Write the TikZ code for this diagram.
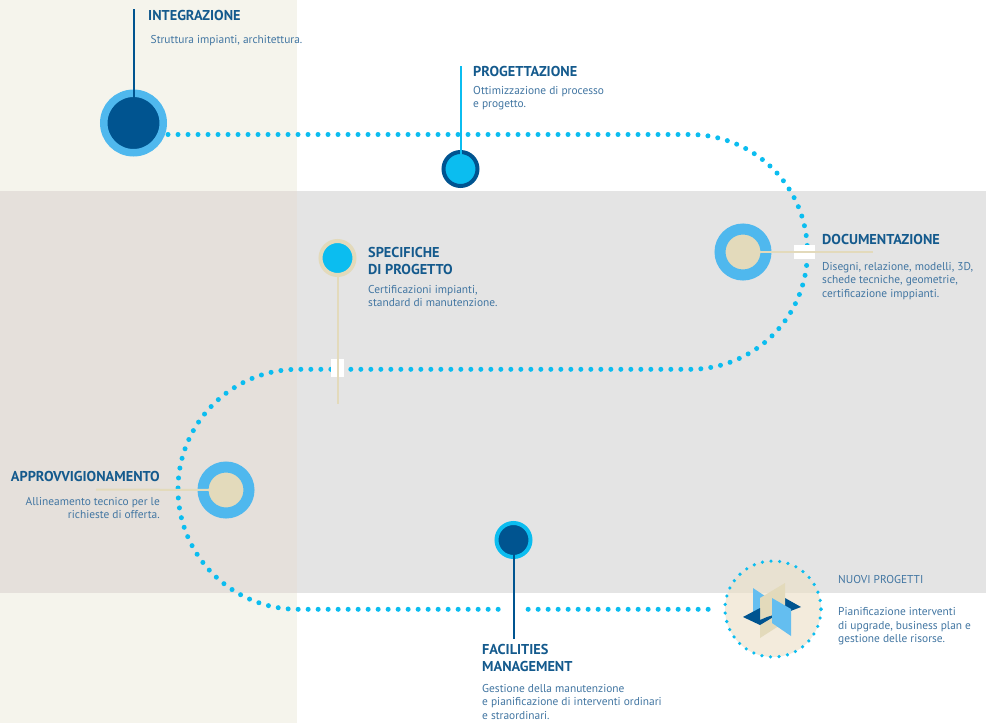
\documentclass[tikz,border=0pt]{standalone}
\usepackage{fontspec}
\usepackage{xcolor}
\usepackage{tikz}
\setmainfont{PT Sans}
\usetikzlibrary{positioning,calc}
\definecolor{darkbluecolor}{RGB}{0,84,144}
\definecolor{ringbluecolor}{RGB}{79,184,238}
\definecolor{cyancolor}{RGB}{11,189,240}
\definecolor{tancolor}{RGB}{227,218,187}
\definecolor{paneltancolor}{RGB}{235,223,197}
\definecolor{creamcolor}{RGB}{245,244,236}
\definecolor{greycolor}{RGB}{228,228,228}
\definecolor{overlaycolor}{RGB}{229,224,219}
\definecolor{titlecolor}{RGB}{20,90,141}
\definecolor{bodycolor}{RGB}{66,118,162}
\definecolor{iconbluecolor}{RGB}{100,190,240}
\tikzset{
    ring/.style={circle, draw=#1, inner sep=0pt},
    bigring/.style={line width=7.5pt, minimum size=59.5pt},
    midring/.style={line width=11pt, minimum size=46pt},
    smallring/.style={line width=4pt, minimum size=34pt},
    dotline/.style={draw=cyancolor, line width=5pt, line cap=round, dash pattern=on 0pt off 10pt},
    stem/.style={line width=2pt},
    gapbox/.style={fill=white, inner sep=0pt},
    titletext/.style={inner sep=0pt, text=titlecolor, font=\fontsize{14.3}{17}\selectfont\bfseries, align=left},
    bodytext/.style={inner sep=0pt, text=bodycolor, font=\fontsize{11.4}{13.5}\selectfont, align=left}
}
\begin{document}
\begin{tikzpicture}[x=1pt,y=-1pt]
\useasboundingbox (0,0) rectangle (986,723);
\fill[white] (0,0) rectangle (986,723);
\fill[creamcolor] (0,0) rectangle (297,723);
\fill[greycolor] (297,191) rectangle (986,593);
\fill[overlaycolor] (0,191) rectangle (297,593);

\coordinate (pathstart) at (168,134.5);
\node[ring=paneltancolor, fill=paneltancolor, fill opacity=0.6, draw opacity=0, minimum size=96pt] (nuoviback) at (773,609) {};
\draw[dotline] (pathstart) -- (690,134.5) arc[start angle=-90, end angle=90, radius=117.4]
    -- (298,369.3) arc[start angle=-90, end angle=-270, radius=120] -- (712,609.3);
\node[gapbox, minimum width=21pt, minimum height=14pt] (docgap) at (804.5,252) {};
\node[gapbox, minimum width=13pt, minimum height=18pt] (specgap) at (337.5,368) {};
\node[gapbox, minimum width=21pt, minimum height=12pt] (facgap) at (513.5,609) {};

\node[ring=ringbluecolor, bigring, fill=darkbluecolor] (integrazione) at (133.5,123) {};
\node[ring=darkbluecolor, smallring, fill=cyancolor] (progettazione) at (460.5,169) {};
\node[ring=ringbluecolor, midring, fill=tancolor] (documentazione) at (743,252) {};
\node[ring=tancolor, smallring, fill=cyancolor] (specifiche) at (337.5,258) {};
\node[ring=ringbluecolor, midring, fill=tancolor] (approvvigionamento) at (226,490) {};
\node[ring=cyancolor, smallring, fill=darkbluecolor] (facilities) at (513.5,540) {};
\node[circle, inner sep=0pt, minimum size=96pt, draw=cyancolor, line width=3.6pt, line cap=round, dash pattern=on 0pt off 8.6pt] (nuovi) at (773,609) {};

\coordinate (integrazioneend) at (133.5,9);
\coordinate (progettazioneend) at (460.5,66);
\coordinate (documentazioneend) at (873,252);
\coordinate (specificheend) at (337.5,404);
\coordinate (approvvigionamentoend) at (96,489.5);
\coordinate (facilitiesend) at (513.5,639);
\draw[stem, darkbluecolor] (integrazione.center) -- (integrazioneend);
\draw[stem, cyancolor] (progettazione.center) -- (progettazioneend);
\draw[stem, tancolor] (documentazione.center) -- (documentazioneend);
\draw[stem, tancolor] (specifiche.south) -- (specificheend);
\draw[stem, tancolor] (approvvigionamento.center) -- (approvvigionamentoend);
\draw[stem, darkbluecolor] (facilities.center) -- (facilitiesend);

\fill[iconbluecolor] (753,588) -- (765,596) -- (765,620) -- (753,615) -- cycle;
\fill[darkbluecolor] (785,598) -- (801,607) -- (788,612) -- (780,606) -- cycle;
\fill[tancolor] (760,598) -- (785,583) -- (785,622) -- (760,638) -- cycle;
\fill[darkbluecolor] (743,617) -- (760,608) -- (760,620) -- (767,617) -- (780,613) -- (760,625) -- cycle;
\fill[iconbluecolor] (772,598) -- (791,609) -- (791,636) -- (772,623) -- cycle;

\node[titletext, anchor=north west] (integrazionetitle) at (148,10) {INTEGRAZIONE};
\node[bodytext, anchor=north west] (integrazionetext) at (150.5,35) {Struttura impianti, architettura.};
\node[titletext, anchor=north west] (progettazionetitle) at (473,66) {PROGETTAZIONE};
\node[bodytext, anchor=north west] (progettazionetext) at (473,86) {Ottimizzazione di processo\\e progetto.};
\node[titletext, anchor=north west] (documentazionetitle) at (822,234.5) {DOCUMENTAZIONE};
\node[bodytext, anchor=north west] (documentazionetext) at (822,262) {Disegni, relazione, modelli, 3D,\\schede tecniche, geometrie,\\certificazione imppianti.};
\node[titletext, anchor=north west] (specifichetitle) at (368,247) {SPECIFICHE\\DI PROGETTO};
\node[bodytext, anchor=north west] (specifichetext) at (368,285) {Certificazioni impianti,\\standard di manutenzione.};
\node[titletext, anchor=north east] (approvvigionamentotitle) at (160,471) {APPROVVIGIONAMENTO};
\node[bodytext, anchor=north east, align=right] (approvvigionamentotext) at (160,497) {Allineamento tecnico per le\\richieste di offerta.};
\node[titletext, anchor=north west] (facilitiestitle) at (482,644) {FACILITIES\\MANAGEMENT};
\node[bodytext, anchor=north west] (facilitiestext) at (482,684) {Gestione della manutenzione\\e pianificazione di interventi ordinari\\e straordinari.};
\node[bodytext, anchor=north west] (nuovititle) at (838,575) {NUOVI PROGETTI};
\node[bodytext, anchor=north west] (nuovitext) at (838,607.5) {Pianificazione interventi\\di upgrade, business plan e\\gestione delle risorse.};
\end{tikzpicture}
\end{document}
